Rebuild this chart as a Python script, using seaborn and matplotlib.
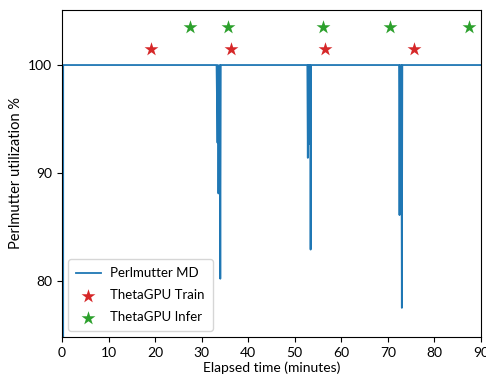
import matplotlib
matplotlib.use("Agg")
import matplotlib.pyplot as plt
import seaborn as sns
import numpy as np

plt.rcParams['font.family'] = ['Lato', 'DejaVu Sans']

# Perlmutter MD utilization time series (minutes, %)
md_time = [0.25, 0.25, 33.2, 33.4, 33.5, 33.6, 33.7, 33.8, 33.9, 34.0, 34.1,
           52.7, 52.8, 52.9, 53.0, 53.1, 53.2, 53.3, 53.4, 53.5,
           72.4, 72.5, 72.6, 72.7, 72.8, 72.9, 73.0, 73.1, 90.0]
md_util = [0.0, 100.0, 100.0, 92.8, 100.0, 88.1, 98.0, 88.5, 100.0, 80.2, 100.0,
           100.0, 91.4, 100.0, 94.2, 100.0, 92.7, 100.0, 82.9, 100.0,
           100.0, 86.1, 100.0, 91.9, 90.1, 100.0, 77.5, 100.0, 100.0]

# ThetaGPU task events
train_time = [19.1, 36.3, 56.5, 75.6]
train_y = [101.5, 101.5, 101.5, 101.5]
infer_time = [27.5, 35.7, 56.1, 70.4, 87.4]
infer_y = [103.5, 103.5, 103.5, 103.5, 103.5]

fig, ax = plt.subplots(figsize=(4.86, 3.77), dpi=100)
fig.subplots_adjust(left=0.1276, right=0.9897, top=0.9735, bottom=0.1061)

sns.lineplot(x=md_time, y=md_util, ax=ax, color='tab:blue', linewidth=1.3,
             label='Perlmutter MD', estimator=None, sort=False)
sns.scatterplot(x=train_time, y=train_y, ax=ax, color='tab:red', marker='*',
                s=110, linewidth=0, label='ThetaGPU Train')
sns.scatterplot(x=infer_time, y=infer_y, ax=ax, color='tab:green', marker='*',
                s=110, linewidth=0, label='ThetaGPU Infer')

ax.set_xlim(0, 90)
ax.set_ylim(74.8, 105.1)
ax.set_xticks(np.arange(0, 91, 10))
ax.set_yticks([80, 90, 100])
ax.tick_params(labelsize=10)
ax.set_xlabel('Elapsed time (minutes)', fontsize=10, labelpad=2)
ax.set_ylabel('Perlmutter utilization %', fontsize=10.5)
ax.legend(loc='lower left', fontsize=9.5, borderpad=0.6, labelspacing=0.75,
          handlelength=1.9, handletextpad=0.7, borderaxespad=0.45)

fig.savefig('out.png', dpi=100)
